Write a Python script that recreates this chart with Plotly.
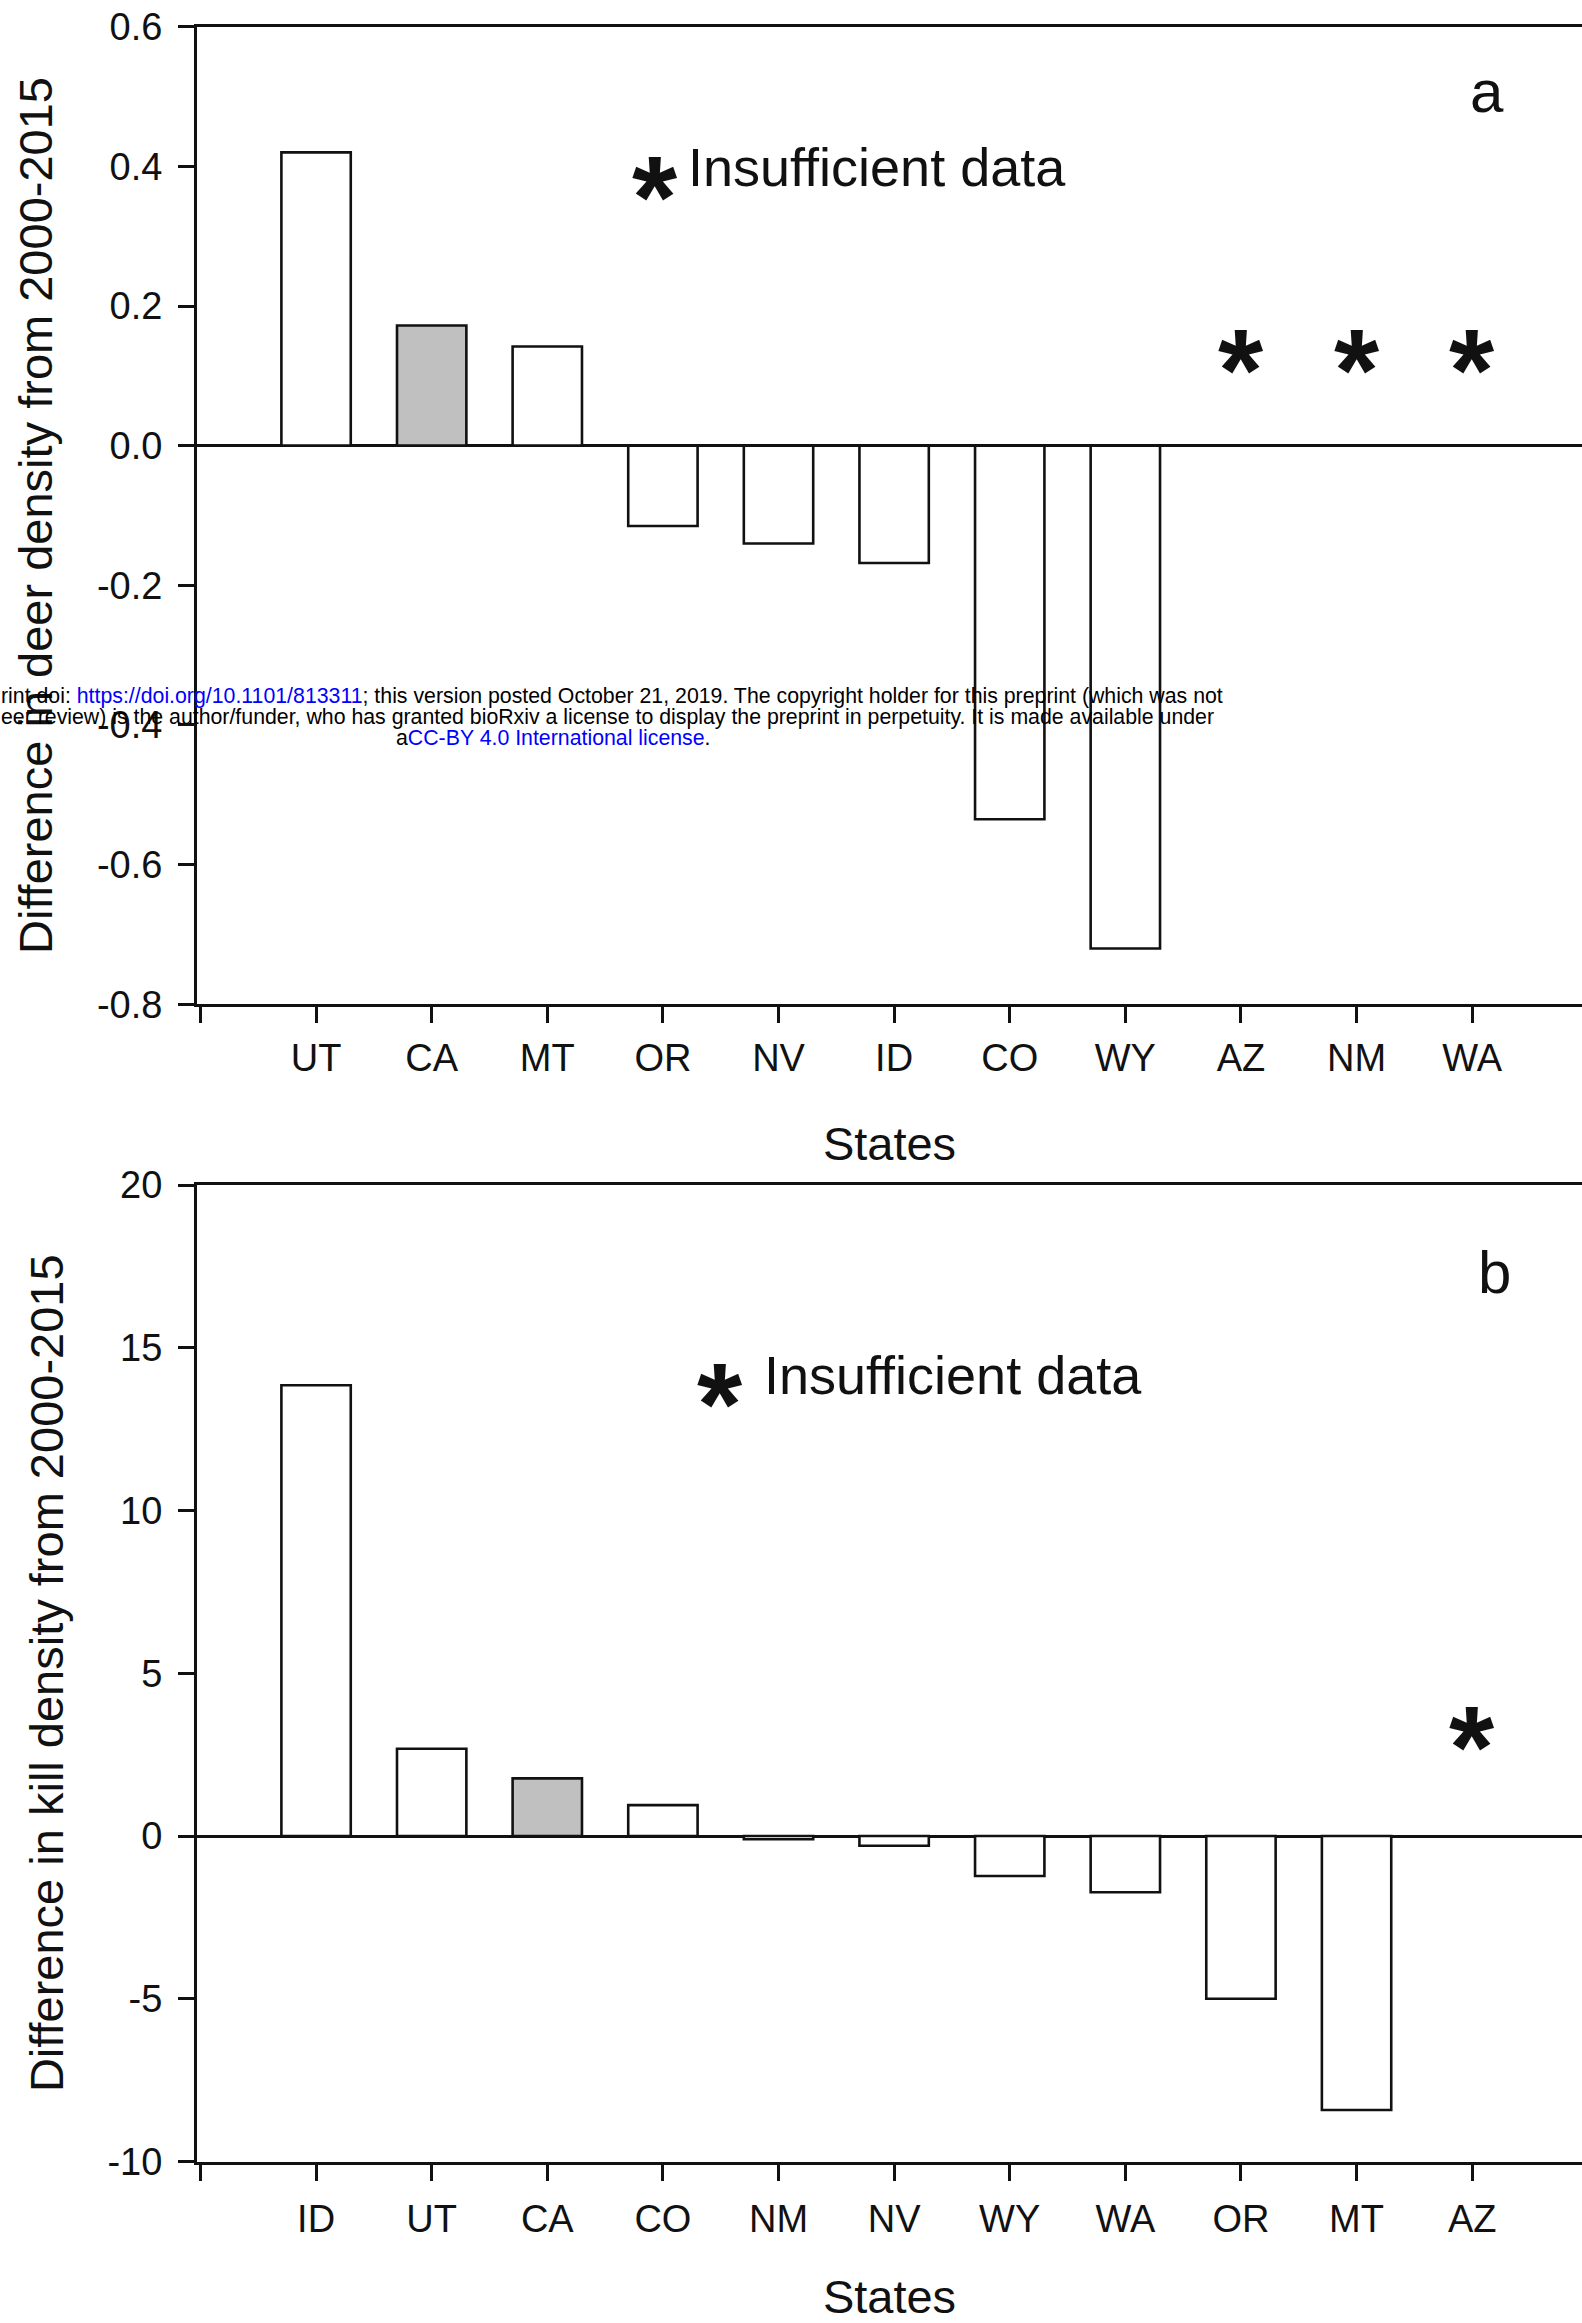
import plotly.graph_objects as go

W, H = 1582, 2323

# ---------------- data ----------------
# Panel a: difference in deer density from 2000-2015
states_a = ["UT", "CA", "MT", "OR", "NV", "ID", "CO", "WY", "AZ", "NM", "WA"]
deer_diff = [0.42, 0.172, 0.142, -0.115, -0.14, -0.168, -0.535, -0.72, None, None, None]
highlight_a = "CA"
insufficient_a = ["AZ", "NM", "WA"]
star_level_a = 0.14

# Panel b: difference in kill density from 2000-2015
states_b = ["ID", "UT", "CA", "CO", "NM", "NV", "WY", "WA", "OR", "MT", "AZ"]
kill_diff = [13.85, 2.68, 1.77, 0.95, -0.1, -0.3, -1.23, -1.73, -5.0, -8.42, None]
highlight_b = "CA"
insufficient_b = ["AZ"]
star_level_b = 3.4

yticks_a = [0.6, 0.4, 0.2, 0.0, -0.2, -0.4, -0.6, -0.8]
yticklabels_a = ["0.6", "0.4", "0.2", "0.0", "-0.2", "-0.4", "-0.6", "-0.8"]
yticks_b = [20, 15, 10, 5, 0, -5, -10]
yticklabels_b = ["20", "15", "10", "5", "0", "-5", "-10"]

ytitle_a = "Difference in deer density from 2000-2015"
ytitle_b = "Difference in kill density from 2000-2015"
xtitle = "States"
note_text = "Insufficient data"

wm_line1 = ("rint doi: <span style='color:#0000FF'>https://doi.org/10.1101/813311</span>; "
            "this version posted October 21, 2019. The copyright holder for this preprint (which was not")
wm_line2 = ("eer review) is the author/funder, who has granted bioRxiv a license to display "
            "the preprint in perpetuity. It is made available under")
wm_line3 = "a<span style='color:#0000FF'>CC-BY 4.0 International license</span>."

# ---------------- styling ----------------
FONT = "Liberation Sans, Arial, Helvetica, sans-serif"
BLACK = "#111111"
GRAY = "#c0c0c0"
TICK_FONT = 38
TITLE_FONT = 47
STAR_FONT = 116

x_dom = [197 / W, 1.0]
dom_a = [1 - 1004.3 / H, 1 - 26.7 / H]
dom_b = [1 - 2161.5 / H, 1 - 1185.0 / H]

fig = go.Figure()


def add_panel(states, values, highlight, xaxis, yaxis):
    pos = list(range(1, len(states) + 1))
    colors = [GRAY if s == highlight else "white" for s in states]
    fig.add_trace(go.Bar(
        x=pos, y=values, width=0.6,
        marker=dict(color=colors, line=dict(color=BLACK, width=2.6)),
        xaxis=xaxis, yaxis=yaxis, showlegend=False, hoverinfo="x+y",
    ))


add_panel(states_a, deer_diff, highlight_a, "x", "y")
add_panel(states_b, kill_diff, highlight_b, "x2", "y2")


def xaxis_cfg(states, anchor, lab_standoff, title_standoff):
    return dict(
        domain=x_dom, anchor=anchor, range=[-0.03, 11.95], automargin=False,
        tickmode="array", tickvals=list(range(0, len(states) + 1)),
        ticktext=[""] + states,
        ticks="outside", ticklen=16, tickwidth=3, tickcolor=BLACK,
        showline=True, linewidth=3, linecolor=BLACK, mirror=True,
        showgrid=False, zeroline=False,
        tickfont=dict(family=FONT, size=TICK_FONT, color=BLACK),
        ticklabelstandoff=lab_standoff,
        title=dict(text=xtitle, font=dict(family=FONT, size=TITLE_FONT, color=BLACK),
                   standoff=title_standoff),
    )


def yaxis_cfg(domain, rng, tv, tt, title, anchor, standoff):
    return dict(
        domain=domain, anchor=anchor, range=rng, automargin=False,
        tickmode="array", tickvals=tv, ticktext=tt,
        ticks="outside", ticklen=16, tickwidth=3, tickcolor=BLACK,
        showline=True, linewidth=3, linecolor=BLACK, mirror=False,
        showgrid=False, zeroline=True, zerolinecolor=BLACK, zerolinewidth=3,
        tickfont=dict(family=FONT, size=TICK_FONT, color=BLACK),
        ticklabelstandoff=8,
        title=dict(text=title, font=dict(family=FONT, size=TITLE_FONT, color=BLACK), standoff=standoff),
    )


fig.update_layout(
    width=W, height=H, autosize=False,
    margin=dict(l=0, r=0, t=0, b=0, autoexpand=False),
    paper_bgcolor="white", plot_bgcolor="white",
    xaxis=xaxis_cfg(states_a, "y", 2, 50),
    yaxis=yaxis_cfg(dom_a, [-0.8, 0.6], yticks_a, yticklabels_a, ytitle_a, "x", 30),
    xaxis2=xaxis_cfg(states_b, "y2", 6, 44),
    yaxis2=yaxis_cfg(dom_b, [-10, 20], yticks_b, yticklabels_b, ytitle_b, "x2", 30),
    bargap=0.4,
)

annotations = []

# asterisks for states with insufficient data
for states, insuff, level, xr, yr in [
    (states_a, insufficient_a, star_level_a, "x", "y"),
    (states_b, insufficient_b, star_level_b, "x2", "y2"),
]:
    for s in insuff:
        annotations.append(dict(
            x=states.index(s) + 1, y=level, xref=xr, yref=yr,
            text="*", showarrow=False, yshift=-23,
            font=dict(family=FONT, size=STAR_FONT, color=BLACK, weight="bold"),
        ))


def paper(px, py):
    return px / W, 1 - py / H


# legend-like notes and panel letters
for (sx, sy), (tx, ty) in [((655, 175), (686, 167)), ((720, 1382), (762, 1375))]:
    ax, ay = paper(sx, sy)
    annotations.append(dict(x=ax, y=ay, xref="paper", yref="paper", text="*", showarrow=False,
                            yshift=-23, xanchor="center", yanchor="middle",
                            font=dict(family=FONT, size=STAR_FONT, color=BLACK, weight="bold")))
    bx, by = paper(tx, ty)
    annotations.append(dict(x=bx, y=by, xref="paper", yref="paper", text=note_text, showarrow=False,
                            xanchor="left", yanchor="middle",
                            font=dict(family=FONT, size=54, color=BLACK)))

for letter, (px, py) in [("a", (1487, 91)), ("b", (1494, 1272))]:
    ax, ay = paper(px, py)
    annotations.append(dict(x=ax, y=ay, xref="paper", yref="paper", text=letter, showarrow=False,
                            xanchor="center", yanchor="middle",
                            font=dict(family=FONT, size=60, color=BLACK)))

# bioRxiv watermark lines
for txt, (px, py), anchor in [(wm_line1, (0, 696), "left"), (wm_line2, (0, 717), "left"),
                              (wm_line3, (553, 738), "center")]:
    ax, ay = paper(px, py)
    annotations.append(dict(x=ax, y=ay, xref="paper", yref="paper", text=txt, showarrow=False,
                            xanchor=anchor, yanchor="middle", borderpad=0,
                            font=dict(family=FONT, size=21.3, color="black")))

fig.update_layout(annotations=annotations)

fig.write_html("out.html")
